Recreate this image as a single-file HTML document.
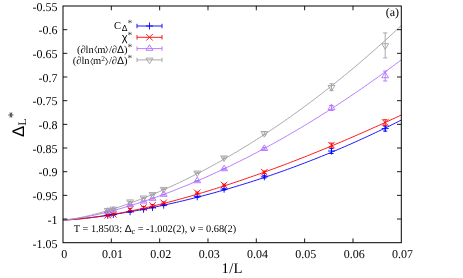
<!DOCTYPE html>
<html><head><meta charset="utf-8"><title>plot</title>
<style>
html,body{margin:0;padding:0;background:#fff;}
body{width:463px;height:278px;position:relative;overflow:hidden;font-family:"Liberation Serif",serif;color:#000;}
.t{position:absolute;white-space:nowrap;line-height:1;}
.yl{font-size:12px;text-align:right;width:40px;left:17.6px;}
.xl{font-size:12px;text-align:center;width:40px;}
.lg{font-size:10.5px;text-align:right;width:80px;left:52.3px;}
.sa{font-family:"Liberation Sans",sans-serif;}
sup,sub{line-height:0;}
</style></head><body>
<svg width="463" height="278" viewBox="0 0 463 278" style="position:absolute;left:0;top:0">
<path d="M63 220 L65.84 219.88 L68.69 219.71 L71.53 219.5 L74.37 219.26 L77.21 219.01 L80.06 218.74 L82.9 218.44 L85.74 218.14 L88.59 217.82 L91.43 217.48 L94.27 217.13 L97.11 216.77 L99.96 216.4 L102.8 216.01 L105.64 215.62 L108.49 215.21 L111.33 214.79 L114.17 214.36 L117.01 213.91 L119.86 213.46 L122.7 212.99 L125.54 212.52 L128.39 212.04 L131.23 211.54 L134.07 211.03 L136.91 210.52 L139.76 209.99 L142.6 209.46 L145.44 208.91 L148.29 208.35 L151.13 207.79 L153.97 207.21 L156.81 206.63 L159.66 206.03 L162.5 205.43 L165.34 204.81 L168.19 204.19 L171.03 203.56 L173.87 202.91 L176.71 202.26 L179.56 201.6 L182.4 200.93 L185.24 200.24 L188.09 199.55 L190.93 198.85 L193.77 198.14 L196.61 197.42 L199.46 196.69 L202.3 195.96 L205.14 195.21 L207.99 194.45 L210.83 193.68 L213.67 192.91 L216.51 192.12 L219.36 191.32 L222.2 190.52 L225.04 189.7 L227.89 188.88 L230.73 188.05 L233.57 187.2 L236.41 186.35 L239.26 185.49 L242.1 184.62 L244.94 183.73 L247.79 182.84 L250.63 181.94 L253.47 181.03 L256.31 180.11 L259.16 179.18 L262 178.24 L264.84 177.29 L267.69 176.34 L270.53 175.37 L273.37 174.39 L276.21 173.4 L279.06 172.4 L281.9 171.4 L284.74 170.38 L287.59 169.35 L290.43 168.32 L293.27 167.27 L296.11 166.21 L298.96 165.15 L301.8 164.07 L304.64 162.99 L307.49 161.89 L310.33 160.78 L313.17 159.67 L316.01 158.54 L318.86 157.41 L321.7 156.26 L324.54 155.11 L327.39 153.94 L330.23 152.77 L333.07 151.58 L335.91 150.39 L338.76 149.18 L341.6 147.96 L344.44 146.74 L347.29 145.5 L350.13 144.25 L352.97 143 L355.81 141.73 L358.66 140.45 L361.5 139.17 L364.34 137.87 L367.19 136.56 L370.03 135.24 L372.87 133.91 L375.71 132.58 L378.56 131.23 L381.4 129.87 L384.24 128.5 L387.09 127.12 L389.93 125.72 L392.77 124.32 L395.61 122.91 L398.46 121.49 L401.3 120.05" stroke="#0000ff" stroke-width="0.9" fill="none"/>
<path d="M63 220 L65.84 219.93 L68.69 219.81 L71.53 219.63 L74.37 219.43 L77.21 219.19 L80.06 218.93 L82.9 218.64 L85.74 218.33 L88.59 217.99 L91.43 217.64 L94.27 217.26 L97.11 216.87 L99.96 216.46 L102.8 216.03 L105.64 215.58 L108.49 215.12 L111.33 214.64 L114.17 214.14 L117.01 213.63 L119.86 213.11 L122.7 212.57 L125.54 212.02 L128.39 211.45 L131.23 210.88 L134.07 210.28 L136.91 209.68 L139.76 209.06 L142.6 208.43 L145.44 207.79 L148.29 207.14 L151.13 206.47 L153.97 205.8 L156.81 205.11 L159.66 204.41 L162.5 203.7 L165.34 202.98 L168.19 202.25 L171.03 201.51 L173.87 200.76 L176.71 200 L179.56 199.23 L182.4 198.44 L185.24 197.65 L188.09 196.85 L190.93 196.04 L193.77 195.22 L196.61 194.4 L199.46 193.56 L202.3 192.71 L205.14 191.86 L207.99 190.99 L210.83 190.12 L213.67 189.24 L216.51 188.34 L219.36 187.45 L222.2 186.54 L225.04 185.62 L227.89 184.7 L230.73 183.77 L233.57 182.83 L236.41 181.88 L239.26 180.92 L242.1 179.96 L244.94 178.99 L247.79 178.01 L250.63 177.02 L253.47 176.02 L256.31 175.02 L259.16 174.01 L262 172.99 L264.84 171.97 L267.69 170.94 L270.53 169.9 L273.37 168.85 L276.21 167.8 L279.06 166.74 L281.9 165.67 L284.74 164.6 L287.59 163.52 L290.43 162.43 L293.27 161.33 L296.11 160.23 L298.96 159.12 L301.8 158.01 L304.64 156.88 L307.49 155.76 L310.33 154.62 L313.17 153.48 L316.01 152.33 L318.86 151.18 L321.7 150.02 L324.54 148.85 L327.39 147.67 L330.23 146.49 L333.07 145.31 L335.91 144.12 L338.76 142.92 L341.6 141.71 L344.44 140.5 L347.29 139.28 L350.13 138.06 L352.97 136.83 L355.81 135.6 L358.66 134.36 L361.5 133.11 L364.34 131.86 L367.19 130.6 L370.03 129.33 L372.87 128.06 L375.71 126.79 L378.56 125.5 L381.4 124.22 L384.24 122.92 L387.09 121.62 L389.93 120.32 L392.77 119.01 L395.61 117.69 L398.46 116.37 L401.3 115.04" stroke="#ff0000" stroke-width="0.9" fill="none"/>
<path d="M63 220 L65.84 219.83 L68.69 219.55 L71.53 219.21 L74.37 218.82 L77.21 218.4 L80.06 217.93 L82.9 217.43 L85.74 216.91 L88.59 216.35 L91.43 215.77 L94.27 215.16 L97.11 214.53 L99.96 213.88 L102.8 213.21 L105.64 212.51 L108.49 211.79 L111.33 211.06 L114.17 210.3 L117.01 209.53 L119.86 208.73 L122.7 207.92 L125.54 207.09 L128.39 206.25 L131.23 205.38 L134.07 204.5 L136.91 203.61 L139.76 202.69 L142.6 201.76 L145.44 200.82 L148.29 199.85 L151.13 198.88 L153.97 197.88 L156.81 196.88 L159.66 195.85 L162.5 194.82 L165.34 193.76 L168.19 192.7 L171.03 191.61 L173.87 190.52 L176.71 189.4 L179.56 188.28 L182.4 187.14 L185.24 185.98 L188.09 184.82 L190.93 183.63 L193.77 182.44 L196.61 181.23 L199.46 180.01 L202.3 178.77 L205.14 177.52 L207.99 176.25 L210.83 174.97 L213.67 173.68 L216.51 172.38 L219.36 171.06 L222.2 169.73 L225.04 168.38 L227.89 167.02 L230.73 165.65 L233.57 164.27 L236.41 162.87 L239.26 161.46 L242.1 160.03 L244.94 158.6 L247.79 157.15 L250.63 155.68 L253.47 154.21 L256.31 152.72 L259.16 151.22 L262 149.7 L264.84 148.17 L267.69 146.63 L270.53 145.08 L273.37 143.51 L276.21 141.93 L279.06 140.34 L281.9 138.74 L284.74 137.12 L287.59 135.49 L290.43 133.84 L293.27 132.19 L296.11 130.52 L298.96 128.84 L301.8 127.15 L304.64 125.44 L307.49 123.72 L310.33 121.99 L313.17 120.24 L316.01 118.49 L318.86 116.72 L321.7 114.93 L324.54 113.14 L327.39 111.33 L330.23 109.51 L333.07 107.68 L335.91 105.83 L338.76 103.97 L341.6 102.1 L344.44 100.22 L347.29 98.32 L350.13 96.41 L352.97 94.49 L355.81 92.56 L358.66 90.61 L361.5 88.65 L364.34 86.68 L367.19 84.7 L370.03 82.7 L372.87 80.69 L375.71 78.67 L378.56 76.63 L381.4 74.58 L384.24 72.52 L387.09 70.45 L389.93 68.36 L392.77 66.27 L395.61 64.15 L398.46 62.03 L401.3 59.89" stroke="#b070ff" stroke-width="0.9" fill="none"/>
<path d="M63 220 L65.84 219.8 L68.69 219.47 L71.53 219.07 L74.37 218.61 L77.21 218.11 L80.06 217.56 L82.9 216.97 L85.74 216.36 L88.59 215.7 L91.43 215.02 L94.27 214.31 L97.11 213.57 L99.96 212.8 L102.8 212 L105.64 211.18 L108.49 210.34 L111.33 209.47 L114.17 208.58 L117.01 207.67 L119.86 206.73 L122.7 205.78 L125.54 204.8 L128.39 203.8 L131.23 202.78 L134.07 201.74 L136.91 200.67 L139.76 199.59 L142.6 198.49 L145.44 197.37 L148.29 196.23 L151.13 195.07 L153.97 193.89 L156.81 192.7 L159.66 191.48 L162.5 190.25 L165.34 189 L168.19 187.72 L171.03 186.44 L173.87 185.13 L176.71 183.8 L179.56 182.46 L182.4 181.1 L185.24 179.72 L188.09 178.33 L190.93 176.92 L193.77 175.48 L196.61 174.04 L199.46 172.57 L202.3 171.09 L205.14 169.59 L207.99 168.07 L210.83 166.54 L213.67 164.99 L216.51 163.42 L219.36 161.83 L222.2 160.23 L225.04 158.61 L227.89 156.98 L230.73 155.32 L233.57 153.65 L236.41 151.97 L239.26 150.27 L242.1 148.55 L244.94 146.81 L247.79 145.06 L250.63 143.29 L253.47 141.5 L256.31 139.69 L259.16 137.87 L262 136.04 L264.84 134.18 L267.69 132.31 L270.53 130.43 L273.37 128.52 L276.21 126.6 L279.06 124.67 L281.9 122.71 L284.74 120.74 L287.59 118.76 L290.43 116.75 L293.27 114.73 L296.11 112.69 L298.96 110.64 L301.8 108.57 L304.64 106.48 L307.49 104.38 L310.33 102.26 L313.17 100.12 L316.01 97.97 L318.86 95.8 L321.7 93.61 L324.54 91.41 L327.39 89.19 L330.23 86.95 L333.07 84.7 L335.91 82.43 L338.76 80.14 L341.6 77.83 L344.44 75.51 L347.29 73.18 L350.13 70.82 L352.97 68.45 L355.81 66.06 L358.66 63.65 L361.5 61.23 L364.34 58.79 L367.19 56.34 L370.03 53.86 L372.87 51.37 L375.71 48.86 L378.56 46.34 L381.4 43.8 L384.24 41.24 L387.09 38.66 L389.93 36.07 L392.77 33.46 L395.61 30.83 L398.46 28.18 L401.3 25.52" stroke="#a0a0a0" stroke-width="0.9" fill="none"/>
<path d="M385.19 126.1V131.1M383.09 126.1H387.29M383.09 131.1H387.29" stroke="#0000ff" stroke-width="0.9" fill="none"/>
<path d="M381.69 128.6H388.69M385.19 125.1V132.1" stroke="#0000ff" stroke-width="0.9" fill="none"/>
<path d="M331.49 148.5V153.5M329.39 148.5H333.59M329.39 153.5H333.59" stroke="#0000ff" stroke-width="0.9" fill="none"/>
<path d="M327.99 151H334.99M331.49 147.5V154.5" stroke="#0000ff" stroke-width="0.9" fill="none"/>
<path d="M264.37 175.6V178M262.27 175.6H266.47M262.27 178H266.47" stroke="#0000ff" stroke-width="0.9" fill="none"/>
<path d="M260.87 176.8H267.87M264.37 173.3V180.3" stroke="#0000ff" stroke-width="0.9" fill="none"/>
<path d="M224.1 188.4V190M222 188.4H226.2M222 190H226.2" stroke="#0000ff" stroke-width="0.9" fill="none"/>
<path d="M220.6 189.2H227.6M224.1 185.7V192.7" stroke="#0000ff" stroke-width="0.9" fill="none"/>
<path d="M197.25 196.2V197.4M195.15 196.2H199.35M195.15 197.4H199.35" stroke="#0000ff" stroke-width="0.9" fill="none"/>
<path d="M193.75 196.8H200.75M197.25 193.3V200.3" stroke="#0000ff" stroke-width="0.9" fill="none"/>
<path d="M163.68 204.67V205.67M161.58 204.67H165.78M161.58 205.67H165.78" stroke="#0000ff" stroke-width="0.9" fill="none"/>
<path d="M160.18 205.17H167.18M163.68 201.67V208.67" stroke="#0000ff" stroke-width="0.9" fill="none"/>
<path d="M152.5 207.01V208.01M150.4 207.01H154.6M150.4 208.01H154.6" stroke="#0000ff" stroke-width="0.9" fill="none"/>
<path d="M149 207.51H156M152.5 204.01V211.01" stroke="#0000ff" stroke-width="0.9" fill="none"/>
<path d="M143.55 208.78V209.78M141.45 208.78H145.65M141.45 209.78H145.65" stroke="#0000ff" stroke-width="0.9" fill="none"/>
<path d="M140.05 209.28H147.05M143.55 205.78V212.78" stroke="#0000ff" stroke-width="0.9" fill="none"/>
<path d="M130.12 211.23V212.23M128.02 211.23H132.22M128.02 212.23H132.22" stroke="#0000ff" stroke-width="0.9" fill="none"/>
<path d="M126.62 211.73H133.62M130.12 208.23V215.23" stroke="#0000ff" stroke-width="0.9" fill="none"/>
<path d="M113.34 213.98V214.98M111.24 213.98H115.44M111.24 214.98H115.44" stroke="#0000ff" stroke-width="0.9" fill="none"/>
<path d="M109.84 214.48H116.84M113.34 210.98V217.98" stroke="#0000ff" stroke-width="0.9" fill="none"/>
<path d="M107.75 214.81V215.81M105.65 214.81H109.85M105.65 215.81H109.85" stroke="#0000ff" stroke-width="0.9" fill="none"/>
<path d="M104.25 215.31H111.25M107.75 211.81V218.81" stroke="#0000ff" stroke-width="0.9" fill="none"/>
<path d="M385.19 119.7V125.3M383.09 119.7H387.29M383.09 125.3H387.29" stroke="#ff0000" stroke-width="0.9" fill="none"/>
<path d="M381.94 119.25L388.44 125.75M381.94 125.75L388.44 119.25" stroke="#ff0000" stroke-width="0.9" fill="none"/>
<path d="M331.49 143.1V147.1M329.39 143.1H333.59M329.39 147.1H333.59" stroke="#ff0000" stroke-width="0.9" fill="none"/>
<path d="M328.24 141.85L334.74 148.35M328.24 148.35L334.74 141.85" stroke="#ff0000" stroke-width="0.9" fill="none"/>
<path d="M264.37 171V173.4M262.27 171H266.47M262.27 173.4H266.47" stroke="#ff0000" stroke-width="0.9" fill="none"/>
<path d="M261.12 168.95L267.62 175.45M261.12 175.45L267.62 168.95" stroke="#ff0000" stroke-width="0.9" fill="none"/>
<path d="M224.1 184.1V185.9M222 184.1H226.2M222 185.9H226.2" stroke="#ff0000" stroke-width="0.9" fill="none"/>
<path d="M220.85 181.75L227.35 188.25M220.85 188.25L227.35 181.75" stroke="#ff0000" stroke-width="0.9" fill="none"/>
<path d="M197.25 192V193.6M195.15 192H199.35M195.15 193.6H199.35" stroke="#ff0000" stroke-width="0.9" fill="none"/>
<path d="M194 189.55L200.5 196.05M194 196.05L200.5 189.55" stroke="#ff0000" stroke-width="0.9" fill="none"/>
<path d="M163.68 202V203.6M161.58 202H165.78M161.58 203.6H165.78" stroke="#ff0000" stroke-width="0.9" fill="none"/>
<path d="M160.43 199.55L166.93 206.05M160.43 206.05L166.93 199.55" stroke="#ff0000" stroke-width="0.9" fill="none"/>
<path d="M152.5 204.6V206.2M150.4 204.6H154.6M150.4 206.2H154.6" stroke="#ff0000" stroke-width="0.9" fill="none"/>
<path d="M149.25 202.15L155.75 208.65M149.25 208.65L155.75 202.15" stroke="#ff0000" stroke-width="0.9" fill="none"/>
<path d="M143.55 206.6V208.4M141.45 206.6H145.65M141.45 208.4H145.65" stroke="#ff0000" stroke-width="0.9" fill="none"/>
<path d="M140.3 204.25L146.8 210.75M140.3 210.75L146.8 204.25" stroke="#ff0000" stroke-width="0.9" fill="none"/>
<path d="M130.12 208.4V210.4M128.02 208.4H132.22M128.02 210.4H132.22" stroke="#ff0000" stroke-width="0.9" fill="none"/>
<path d="M126.87 206.15L133.37 212.65M126.87 212.65L133.37 206.15" stroke="#ff0000" stroke-width="0.9" fill="none"/>
<path d="M113.34 213.49V215.09M111.24 213.49H115.44M111.24 215.09H115.44" stroke="#ff0000" stroke-width="0.9" fill="none"/>
<path d="M110.09 211.04L116.59 217.54M110.09 217.54L116.59 211.04" stroke="#ff0000" stroke-width="0.9" fill="none"/>
<path d="M107.75 214.44V216.04M105.65 214.44H109.85M105.65 216.04H109.85" stroke="#ff0000" stroke-width="0.9" fill="none"/>
<path d="M104.5 211.99L111 218.49M104.5 218.49L111 211.99" stroke="#ff0000" stroke-width="0.9" fill="none"/>
<path d="M385.19 71V81M383.09 71H387.29M383.09 81H387.29" stroke="#b070ff" stroke-width="0.9" fill="none"/>
<path d="M385.19 72.14L381.74 77.72H388.64Z" stroke="#b070ff" stroke-width="0.9" fill="none"/>
<path d="M331.49 105.5V110.5M329.39 105.5H333.59M329.39 110.5H333.59" stroke="#b070ff" stroke-width="0.9" fill="none"/>
<path d="M331.49 104.14L328.04 109.72H334.94Z" stroke="#b070ff" stroke-width="0.9" fill="none"/>
<path d="M264.37 147.5V149.9M262.27 147.5H266.47M262.27 149.9H266.47" stroke="#b070ff" stroke-width="0.9" fill="none"/>
<path d="M264.37 144.84L260.92 150.42H267.82Z" stroke="#b070ff" stroke-width="0.9" fill="none"/>
<path d="M224.1 168.3V169.7M222 168.3H226.2M222 169.7H226.2" stroke="#b070ff" stroke-width="0.9" fill="none"/>
<path d="M224.1 165.14L220.65 170.72H227.55Z" stroke="#b070ff" stroke-width="0.9" fill="none"/>
<path d="M197.25 180.5V181.5M195.15 180.5H199.35M195.15 181.5H199.35" stroke="#b070ff" stroke-width="0.9" fill="none"/>
<path d="M197.25 177.14L193.8 182.72H200.7Z" stroke="#b070ff" stroke-width="0.9" fill="none"/>
<path d="M163.68 194.2V195M161.58 194.2H165.78M161.58 195H165.78" stroke="#b070ff" stroke-width="0.9" fill="none"/>
<path d="M163.68 190.74L160.23 196.32H167.13Z" stroke="#b070ff" stroke-width="0.9" fill="none"/>
<path d="M152.5 198.2V199M150.4 198.2H154.6M150.4 199H154.6" stroke="#b070ff" stroke-width="0.9" fill="none"/>
<path d="M152.5 194.74L149.05 200.32H155.95Z" stroke="#b070ff" stroke-width="0.9" fill="none"/>
<path d="M143.55 201V201.8M141.45 201H145.65M141.45 201.8H145.65" stroke="#b070ff" stroke-width="0.9" fill="none"/>
<path d="M143.55 197.54L140.1 203.12H147Z" stroke="#b070ff" stroke-width="0.9" fill="none"/>
<path d="M130.12 204.5V205.3M128.02 204.5H132.22M128.02 205.3H132.22" stroke="#b070ff" stroke-width="0.9" fill="none"/>
<path d="M130.12 201.04L126.67 206.62H133.57Z" stroke="#b070ff" stroke-width="0.9" fill="none"/>
<path d="M113.34 210V210.8M111.24 210H115.44M111.24 210.8H115.44" stroke="#b070ff" stroke-width="0.9" fill="none"/>
<path d="M113.34 206.54L109.89 212.12H116.79Z" stroke="#b070ff" stroke-width="0.9" fill="none"/>
<path d="M107.75 211.1V211.9M105.65 211.1H109.85M105.65 211.9H109.85" stroke="#b070ff" stroke-width="0.9" fill="none"/>
<path d="M107.75 207.64L104.3 213.22H111.2Z" stroke="#b070ff" stroke-width="0.9" fill="none"/>
<path d="M385.19 32.9V57.9M383.09 32.9H387.29M383.09 57.9H387.29" stroke="#a0a0a0" stroke-width="0.9" fill="none"/>
<path d="M385.19 49.26L381.74 43.67H388.64Z" stroke="#a0a0a0" stroke-width="0.9" fill="none"/>
<path d="M331.49 83.7V90.7M329.39 83.7H333.59M329.39 90.7H333.59" stroke="#a0a0a0" stroke-width="0.9" fill="none"/>
<path d="M331.49 91.06L328.04 85.48H334.94Z" stroke="#a0a0a0" stroke-width="0.9" fill="none"/>
<path d="M264.37 131.8V134.8M262.27 131.8H266.47M262.27 134.8H266.47" stroke="#a0a0a0" stroke-width="0.9" fill="none"/>
<path d="M264.37 137.16L260.92 131.58H267.82Z" stroke="#a0a0a0" stroke-width="0.9" fill="none"/>
<path d="M224.1 156.9V158.5M222 156.9H226.2M222 158.5H226.2" stroke="#a0a0a0" stroke-width="0.9" fill="none"/>
<path d="M224.1 161.56L220.65 155.97H227.55Z" stroke="#a0a0a0" stroke-width="0.9" fill="none"/>
<path d="M197.25 172.2V173.4M195.15 172.2H199.35M195.15 173.4H199.35" stroke="#a0a0a0" stroke-width="0.9" fill="none"/>
<path d="M197.25 176.66L193.8 171.08H200.7Z" stroke="#a0a0a0" stroke-width="0.9" fill="none"/>
<path d="M163.68 188.7V189.5M161.58 188.7H165.78M161.58 189.5H165.78" stroke="#a0a0a0" stroke-width="0.9" fill="none"/>
<path d="M163.68 192.96L160.23 187.38H167.13Z" stroke="#a0a0a0" stroke-width="0.9" fill="none"/>
<path d="M152.5 193.9V194.7M150.4 193.9H154.6M150.4 194.7H154.6" stroke="#a0a0a0" stroke-width="0.9" fill="none"/>
<path d="M152.5 198.16L149.05 192.58H155.95Z" stroke="#a0a0a0" stroke-width="0.9" fill="none"/>
<path d="M143.55 197.3V198.1M141.45 197.3H145.65M141.45 198.1H145.65" stroke="#a0a0a0" stroke-width="0.9" fill="none"/>
<path d="M143.55 201.56L140.1 195.97H147Z" stroke="#a0a0a0" stroke-width="0.9" fill="none"/>
<path d="M130.12 201.2V202M128.02 201.2H132.22M128.02 202H132.22" stroke="#a0a0a0" stroke-width="0.9" fill="none"/>
<path d="M130.12 205.46L126.67 199.88H133.57Z" stroke="#a0a0a0" stroke-width="0.9" fill="none"/>
<path d="M113.34 208.5V209.3M111.24 208.5H115.44M111.24 209.3H115.44" stroke="#a0a0a0" stroke-width="0.9" fill="none"/>
<path d="M113.34 212.76L109.89 207.18H116.79Z" stroke="#a0a0a0" stroke-width="0.9" fill="none"/>
<path d="M107.75 209.8V210.6M105.65 209.8H109.85M105.65 210.6H109.85" stroke="#a0a0a0" stroke-width="0.9" fill="none"/>
<path d="M107.75 214.06L104.3 208.47H111.2Z" stroke="#a0a0a0" stroke-width="0.9" fill="none"/>
<path d="M137 26H162M137 23.8V28.2M162 23.8V28.2" stroke="#0000ff" stroke-width="0.9" fill="none"/>
<path d="M146 26H153M149.5 22.5V29.5" stroke="#0000ff" stroke-width="0.9" fill="none"/>
<path d="M137 37.3H162M137 35.1V39.5M162 35.1V39.5" stroke="#ff0000" stroke-width="0.9" fill="none"/>
<path d="M146.25 34.05L152.75 40.55M146.25 40.55L152.75 34.05" stroke="#ff0000" stroke-width="0.9" fill="none"/>
<path d="M137 48.6H162M137 46.4V50.8M162 46.4V50.8" stroke="#b070ff" stroke-width="0.9" fill="none"/>
<path d="M149.5 44.74L146.05 50.33H152.95Z" stroke="#b070ff" stroke-width="0.9" fill="none"/>
<path d="M137 59.9H162M137 57.7V62.1M162 57.7V62.1" stroke="#a0a0a0" stroke-width="0.9" fill="none"/>
<path d="M149.5 63.76L146.05 58.17H152.95Z" stroke="#a0a0a0" stroke-width="0.9" fill="none"/>
<rect x="63.0" y="6.0" width="338.3" height="236.7" fill="none" stroke="#000" stroke-width="1"/>
<path d="M111.33 242.7v-4.3M111.33 6.0v4.3M159.66 242.7v-4.3M159.66 6.0v4.3M207.99 242.7v-4.3M207.99 6.0v4.3M256.31 242.7v-4.3M256.31 6.0v4.3M304.64 242.7v-4.3M304.64 6.0v4.3M352.97 242.7v-4.3M352.97 6.0v4.3M63.0 29.67h4.3M401.3 29.67h-4.3M63.0 53.34h4.3M401.3 53.34h-4.3M63.0 77.01h4.3M401.3 77.01h-4.3M63.0 100.68h4.3M401.3 100.68h-4.3M63.0 124.35h4.3M401.3 124.35h-4.3M63.0 148.02h4.3M401.3 148.02h-4.3M63.0 171.69h4.3M401.3 171.69h-4.3M63.0 195.36h4.3M401.3 195.36h-4.3M63.0 219.03h4.3M401.3 219.03h-4.3" stroke="#000" stroke-width="0.9" fill="none"/>
</svg>
<div style="position:absolute;left:0;top:0;width:463px;height:278px;will-change:transform;text-rendering:geometricPrecision">
<div class="t yl" style="top:0.8px">-0.55</div>
<div class="t yl" style="top:24.47px">-0.6</div>
<div class="t yl" style="top:48.14px">-0.65</div>
<div class="t yl" style="top:71.81px">-0.7</div>
<div class="t yl" style="top:95.48px">-0.75</div>
<div class="t yl" style="top:119.15px">-0.8</div>
<div class="t yl" style="top:142.82px">-0.85</div>
<div class="t yl" style="top:166.49px">-0.9</div>
<div class="t yl" style="top:190.16px">-0.95</div>
<div class="t yl" style="top:213.83px">-1</div>
<div class="t yl" style="top:237.5px">-1.05</div>
<div class="t xl" style="left:44.2px;top:247.7px">0</div>
<div class="t xl" style="left:92.53px;top:247.7px">0.01</div>
<div class="t xl" style="left:140.86px;top:247.7px">0.02</div>
<div class="t xl" style="left:189.19px;top:247.7px">0.03</div>
<div class="t xl" style="left:237.51px;top:247.7px">0.04</div>
<div class="t xl" style="left:285.84px;top:247.7px">0.05</div>
<div class="t xl" style="left:334.17px;top:247.7px">0.06</div>
<div class="t xl" style="left:382.5px;top:247.7px">0.07</div>
<div class="t" style="font-size:14.7px;left:221.6px;top:261.8px;letter-spacing:0.2px">1/L</div>
<div class="t" style="font-size:12px;left:385.8px;top:6.4px">(a)</div>
<div class="t" style="font-size:10.32px;left:73.8px;top:224.8px">T = 1.8503: <span class="sa">Δ</span><sub style="font-size:8px;vertical-align:-2px">c</sub> = -1.002(2), <span class="sa">ν</span> = 0.68(2)</div>
<div class="t lg" style="top:21.9px">C<sub class="sa" style="font-size:8.6px;vertical-align:-2.3px;margin-left:0.9px">Δ</sub><sup style="font-size:9.5px;vertical-align:2.6px;color:#333">*</sup></div>
<div class="t lg" style="top:33.2px"><span class="sa" style="font-size:11px">χ</span><sup style="font-size:9.5px;vertical-align:2.6px;color:#333">*</sup></div>
<div class="t lg" style="top:44.5px">(∂ln<svg width="3.5" height="9" viewBox="0 0 3.5 9" style="display:inline-block;vertical-align:-1.9px;overflow:visible"><path d="M2.9 0.9L0.8 4.6L2.9 8.3" fill="none" stroke="#000" stroke-width="0.7"/></svg>m<svg width="3.5" height="9" viewBox="0 0 3.5 9" style="display:inline-block;vertical-align:-1.9px;overflow:visible"><path d="M0.6 0.9L2.7 4.6L0.6 8.3" fill="none" stroke="#000" stroke-width="0.7"/></svg>/∂<span class="sa">Δ</span>)<sup style="font-size:9.5px;vertical-align:2.6px;color:#333">*</sup></div>
<div class="t lg" style="top:55.8px">(∂ln<svg width="3.5" height="9" viewBox="0 0 3.5 9" style="display:inline-block;vertical-align:-1.9px;overflow:visible"><path d="M2.9 0.9L0.8 4.6L2.9 8.3" fill="none" stroke="#000" stroke-width="0.7"/></svg>m<sup style="font-size:7.5px;vertical-align:3.2px;margin-right:0.4px">2</sup><svg width="3.5" height="9" viewBox="0 0 3.5 9" style="display:inline-block;vertical-align:-1.9px;overflow:visible"><path d="M0.6 0.9L2.7 4.6L0.6 8.3" fill="none" stroke="#000" stroke-width="0.7"/></svg>/∂<span class="sa">Δ</span>)<sup style="font-size:9.5px;vertical-align:2.6px;color:#333">*</sup></div>
<div class="t" style="left:0;top:0;font-size:16.8px;font-family:'Liberation Sans',sans-serif;transform-origin:0 0;transform:translate(10.6px,137.0px) rotate(-90deg)">Δ</div>
<div class="t" style="left:0;top:0;font-size:11.5px;font-family:'Liberation Serif',serif;transform-origin:0 0;transform:translate(18.4px,125.6px) rotate(-90deg)">L</div>
<div class="t" style="left:0;top:0;font-size:13px;font-family:'Liberation Serif',serif;transform-origin:0 0;transform:translate(6.1px,118.3px) rotate(-90deg)">*</div>
</div>
</body></html>
